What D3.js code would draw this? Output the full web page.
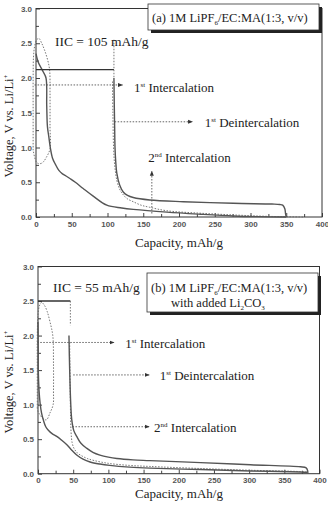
<!DOCTYPE html>
<html>
<head>
<meta charset="utf-8">
<script src="https://cdn.jsdelivr.net/npm/d3@7"></script>
<style>
	body { margin: 0; background: #fff; }
	.tick text { font-family: "Liberation Sans", Arial, sans-serif; font-size: 8px; font-weight: bold; fill: #555; }
	.tick line { stroke: #444; }
	.lbl { font-family: "Liberation Serif", "Times New Roman", serif; fill: #222; }
</style>
</head>
<body>
<svg id="chart" width="328" height="506"></svg>
<script>
// ---- data (capacity mAh/g, voltage V) ----

const xTicks = [0, 50, 100, 150, 200, 250, 300, 350, 400];
const yTicks = [0.0, 0.5, 1.0, 1.5, 2.0, 2.5, 3.0];

// panel (a)
const intercal1A = [[0,2.35],[3,2.23],[10,2.09],[14,2.0],[15,1.6],[16,1.3],[18,1.15],[20,1.0],[23,0.85],[27,0.76],[32,0.67],[37,0.62],[42,0.59],[48,0.55],[55,0.5],[66,0.41],[80,0.3],[99,0.17],[120,0.13],[136,0.11],[183,0.07],[230,0.04],[276,0.015],[310,0.005],[350,0]];
const deintercal1A = [[109,2.0],[109.5,1.6],[110,1.3],[110.5,1.0],[111.5,0.8],[113,0.63],[117,0.46],[122,0.36],[128,0.31],[136,0.28],[159,0.245],[206,0.22],[276,0.197],[330,0.186],[341,0.18],[345,0.17],[348,0.12],[349,0.05],[350,0]];
const intercal2A = [[107,1.95],[107.5,1.5],[108.5,1.0],[110,0.75],[113,0.53],[117,0.4],[122,0.32],[128,0.26],[136,0.22],[147,0.17],[159,0.14],[183,0.09],[229,0.055],[276,0.03],[322,0.01],[375,0]];
const loopA = [[-4,0.96],[-4,1.5],[-4,2.0],[-3.5,2.3],[-2,2.45],[1,2.55],[4,2.57],[8,2.5],[12,2.4],[16,2.27],[19,2.12],[19.6,1.8],[19.6,1.3],[19.6,0.98],[14,0.85],[10,0.79],[7,0.77],[3,0.77],[0,0.8],[-4,0.96]];
const iicA = { cap: 109, v: 2.12, top: 2.55, bottom: 2.0, label: "IIC = 105 mAh/g" };

// panel (b)
const intercal1B = [[0,2.2],[0.3,1.8],[0.4,1.5],[1.5,1.2],[3,1.02],[5,0.88],[7.5,0.78],[11,0.68],[14.7,0.63],[20,0.58],[26.6,0.54],[33,0.49],[41,0.42],[48,0.34],[55,0.27],[64,0.21],[74,0.17],[88,0.14],[102,0.12],[130,0.095],[159,0.08],[231,0.06],[302,0.04],[373,0.025],[383,0.02]];
const deintercal1B = [[44,2.0],[45,1.5],[46.5,1.02],[48,0.78],[51,0.62],[55,0.54],[61,0.44],[69,0.37],[78,0.31],[88,0.27],[100,0.24],[112,0.22],[135,0.2],[159,0.19],[231,0.16],[302,0.13],[373,0.1],[381,0.085],[383,0.05],[383.5,0]];
const intercal2B = [[45,1.9],[46,1.0],[47,0.6],[48.5,0.45],[51,0.37],[56,0.3],[62,0.26],[70,0.22],[80,0.19],[100,0.15],[130,0.12],[159,0.105],[231,0.075],[302,0.05],[373,0.03],[383,0.02]];
const loopB = [[-1,0.95],[-1,1.5],[-1,2.0],[0,2.3],[2,2.43],[5,2.48],[9,2.44],[13,2.35],[17,2.2],[21,2.0],[22,1.6],[22,1.2],[21.5,1.0],[17,0.88],[12,0.78],[7,0.8],[3,0.85],[0,0.9],[-1,0.95]];
const iicB = { cap: 46, v: 2.5, top: 2.5, bottom: 2.15, label: "IIC = 55 mAh/g" };

// arrows: head at "to", label baseline at "at"
const arrowsA = [
	{ from: [-2, 1.9], to: [121, 1.9], text: "Intercalation", ord: "1", sup: "st", at: [137, 1.8] },
	{ from: [110, 1.37], to: [219, 1.37], text: "Deintercalation", ord: "1", sup: "st", at: [236, 1.29] },
	{ from: [162, 0.05], to: [162, 0.66], text: "Intercalation", ord: "2", sup: "nd", at: [157, 0.79] }
];
const arrowsB = [
	{ from: [-1, 1.9], to: [108, 1.9], text: "Intercalation", ord: "1", sup: "st", at: [124, 1.82] },
	{ from: [50, 1.43], to: [158, 1.43], text: "Deintercalation", ord: "1", sup: "st", at: [173, 1.36] },
	{ from: [49, 0.68], to: [158, 0.68], text: "Intercalation", ord: "2", sup: "nd", at: [165, 0.61] }
];

// --------------------------------------------------------------------

const svg = d3.select("#chart");
const grey = "#555";

svg.append("defs").append("marker")
	.attr("id", "head")
	.attr("viewBox", "0 0 10 10")
	.attr("refX", 9).attr("refY", 5)
	.attr("markerWidth", 5).attr("markerHeight", 5)
	.attr("orient", "auto-start-reverse")
	.attr("markerUnits", "userSpaceOnUse")
	.append("path")
	.attr("d", "M0,1 L10,5 L0,9 z")
	.attr("fill", "#333");

function richText(t, parts) {
	let shift = 0;
	parts.forEach(p => {
		if (p.sub) {
			t.append("tspan").attr("font-size", 7).attr("dy", 3 - shift).text(p.sub);
			shift = 3;
		} else if (p.sup) {
			t.append("tspan").attr("font-size", 7).attr("dy", -5 - shift).text(p.sup);
			shift = -5;
		} else {
			t.append("tspan").attr("dy", -shift).text(p.t);
			shift = 0;
		}
	});
}

function panel(x, y, cfg) {
	const g = svg.append("g");
	const [x0, x1] = x.range(), [y0, y1] = y.range();

	// minor ticks
	g.append("g").attr("transform", `translate(0,${y0})`)
		.call(d3.axisBottom(x).tickValues(d3.range(25, 400, 50)).tickSize(-3).tickFormat(""))
		.call(a => a.select(".domain").remove());
	g.append("g").attr("transform", `translate(${x0},0)`)
		.call(d3.axisLeft(y).tickValues(d3.range(0.25, 3, 0.5)).tickSize(-3).tickFormat(""))
		.call(a => a.select(".domain").remove());

	// major ticks
	g.append("g").attr("transform", `translate(0,${y0})`)
		.call(d3.axisBottom(x).tickValues(xTicks).tickSizeInner(-4).tickSizeOuter(0).tickPadding(4).tickFormat(d3.format("d")))
		.call(a => a.select(".domain").remove());
	g.append("g").attr("transform", `translate(${x0},0)`)
		.call(d3.axisLeft(y).tickValues(yTicks).tickSizeInner(-4).tickSizeOuter(0).tickPadding(4).tickFormat(d3.format(".1f")))
		.call(a => a.select(".domain").remove());

	g.append("rect")
		.attr("x", x0).attr("y", y1)
		.attr("width", x1 - x0).attr("height", y0 - y1)
		.attr("fill", "none").attr("stroke", "#333").attr("stroke-width", 1);

	const line = d3.line().x(d => x(d[0])).y(d => y(d[1])).curve(d3.curveCatmullRom);

	[cfg.loop, cfg.intercal2].forEach(s => {
		g.append("path").attr("d", line(s))
			.attr("fill", "none").attr("stroke", "#666").attr("stroke-width", 0.9).attr("stroke-dasharray", "1.5,1.5");
	});

	[cfg.intercal1, cfg.deintercal1].forEach(s => {
		g.append("path").attr("d", line(s))
			.attr("fill", "none").attr("stroke", grey).attr("stroke-width", 1.4);
	});

	// IIC marker
	g.append("line")
		.attr("x1", x(0)).attr("x2", x(cfg.iic.cap))
		.attr("y1", y(cfg.iic.v)).attr("y2", y(cfg.iic.v))
		.attr("stroke", "#333").attr("stroke-width", 1.4);
	g.append("line")
		.attr("x1", x(cfg.iic.cap)).attr("x2", x(cfg.iic.cap))
		.attr("y1", y(cfg.iic.top)).attr("y2", y(cfg.iic.bottom))
		.attr("stroke", "#666").attr("stroke-width", 0.9).attr("stroke-dasharray", "1.5,1.5");
	g.append("text").attr("class", "lbl")
		.attr("x", cfg.iicPos[0]).attr("y", cfg.iicPos[1])
		.attr("font-size", 13.5).text(cfg.iic.label);

	// arrows + labels
	cfg.arrows.forEach(a => {
		g.append("line")
			.attr("x1", x(a.from[0])).attr("y1", y(a.from[1]))
			.attr("x2", x(a.to[0])).attr("y2", y(a.to[1]))
			.attr("stroke", "#555").attr("stroke-width", 0.9)
			.attr("stroke-dasharray", "1.5,1.5")
			.attr("marker-end", "url(#head)");
		const t = g.append("text").attr("class", "lbl")
			.attr("x", x(a.at[0])).attr("y", y(a.at[1]))
			.attr("font-size", 13);
		richText(t, [{ t: a.ord }, { sup: a.sup }, { t: " " + a.text }]);
	});

	// axis titles
	g.append("text").attr("class", "lbl")
		.attr("x", 179).attr("y", cfg.xTitleY)
		.attr("text-anchor", "middle").attr("font-size", 13)
		.text("Capacity, mAh/g");
	const yt = g.append("text").attr("class", "lbl")
		.attr("transform", `translate(13,${cfg.yTitleMid}) rotate(-90)`)
		.attr("text-anchor", "middle").attr("font-size", 12.5);
	richText(yt, [{ t: "Voltage, V vs. Li/Li" }, { sup: "+" }]);

	// legend box with shadow
	const b = cfg.box;
	g.append("rect").attr("x", b.x + 3).attr("y", b.y + 3).attr("width", b.w).attr("height", b.h).attr("fill", "#222");
	g.append("rect").attr("x", b.x).attr("y", b.y).attr("width", b.w).attr("height", b.h)
		.attr("fill", "#fff").attr("stroke", "#333").attr("stroke-width", 0.8);
	b.lines.forEach(ln => {
		const t = g.append("text").attr("class", "lbl")
			.attr("x", ln.x).attr("y", b.y + ln.dy).attr("font-size", 12.5);
		richText(t, ln.parts);
	});
}

const xA = d3.scaleLinear().domain([0, 400]).range([36, 322]);
const yA = d3.scaleLinear().domain([0, 3]).range([217, 8.5]);
const xB = d3.scaleLinear().domain([0, 400]).range([38, 319.5]);
const yB = d3.scaleLinear().domain([0, 3]).range([473.7, 266.5]);

panel(xA, yA, {
	intercal1: intercal1A, deintercal1: deintercal1A, intercal2: intercal2A, loop: loopA,
	iic: iicA, iicPos: [55, 46], arrows: arrowsA,
	xTitleY: 247, yTitleMid: 126,
	box: { x: 148, y: 4, w: 171, h: 26, lines: [
		{ x: 152, dy: 18, parts: [{ t: "(a) 1M LiPF" }, { sub: "6" }, { t: "/EC:MA(1:3, v/v)" }] }
	] }
});

panel(xB, yB, {
	intercal1: intercal1B, deintercal1: deintercal1B, intercal2: intercal2B, loop: loopB,
	iic: iicB, iicPos: [53, 292], arrows: arrowsB,
	xTitleY: 498, yTitleMid: 382,
	box: { x: 147, y: 273, w: 171, h: 39, lines: [
		{ x: 151, dy: 19, parts: [{ t: "(b) 1M LiPF" }, { sub: "6" }, { t: "/EC:MA(1:3, v/v)" }] },
		{ x: 171, dy: 34, parts: [{ t: "with added Li" }, { sub: "2" }, { t: "CO" }, { sub: "3" }] }
	] }
});
</script>
</body>
</html>
